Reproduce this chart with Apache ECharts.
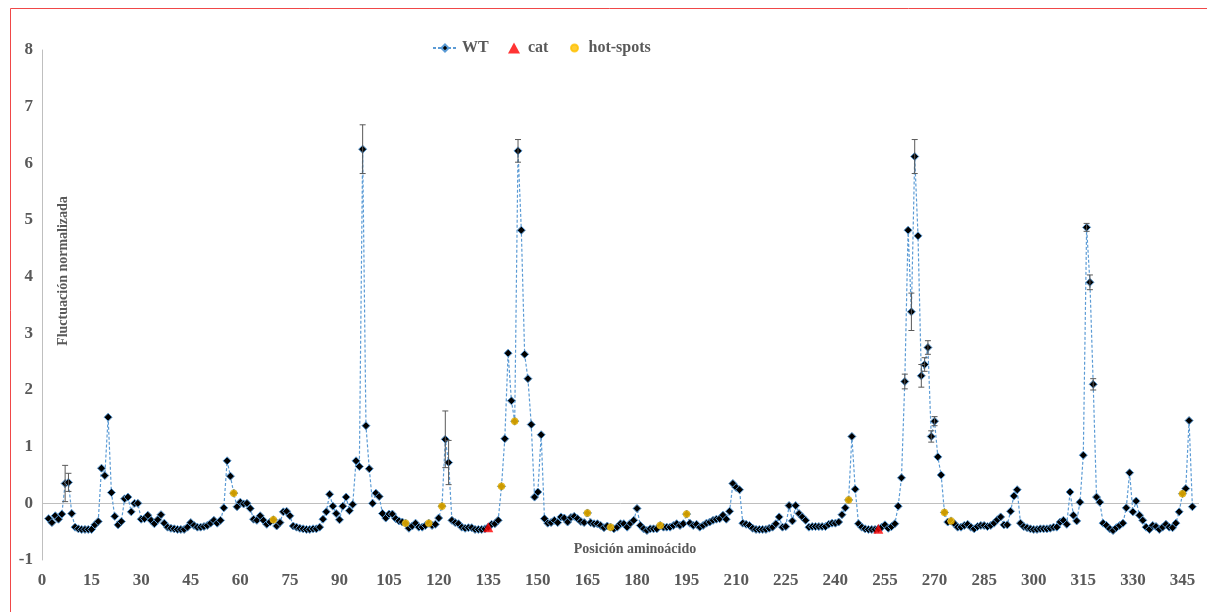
<!DOCTYPE html>
<html><head><meta charset="utf-8">
<script src="https://cdn.jsdelivr.net/npm/echarts@6/dist/echarts.min.js"></script>
<style>html,body{margin:0;padding:0;background:#fff}#c{width:1207px;height:612px}</style>
</head><body><div id="c"></div>
<script>
// Residue numbering starts at 2
const firstResidue = 2;
const xTicks = {min: 0, max: 350, interval: 15};
const yTicks = {min: -1, max: 8, interval: 1};
const wt = [
-0.27,-0.34,-0.22,-0.28,-0.19,0.35,0.37,-0.18,-0.42,-0.45,
-0.46,-0.46,-0.46,-0.46,-0.38,-0.32,0.62,0.49,1.52,0.19,
-0.23,-0.38,-0.32,0.08,0.11,-0.15,0.00,0.00,-0.28,-0.27,
-0.21,-0.30,-0.36,-0.29,-0.20,-0.35,-0.42,-0.44,-0.45,-0.46,
-0.46,-0.46,-0.42,-0.34,-0.39,-0.42,-0.42,-0.41,-0.39,-0.35,
-0.30,-0.35,-0.30,-0.08,0.75,0.48,0.18,-0.06,0.02,-0.01,
0.00,-0.09,-0.28,-0.30,-0.22,-0.30,-0.37,-0.33,-0.29,-0.40,
-0.34,-0.15,-0.14,-0.22,-0.40,-0.42,-0.44,-0.45,-0.46,-0.46,
-0.45,-0.45,-0.42,-0.28,-0.15,0.16,-0.05,-0.18,-0.29,-0.05,
0.11,-0.13,-0.02,0.75,0.65,6.25,1.37,0.61,0.00,0.18,
0.12,-0.18,-0.26,-0.19,-0.19,-0.27,-0.31,-0.33,-0.35,-0.44,
-0.40,-0.35,-0.42,-0.42,-0.39,-0.35,-0.39,-0.37,-0.26,-0.05,
1.13,0.72,-0.30,-0.34,-0.36,-0.42,-0.44,-0.43,-0.43,-0.46,
-0.46,-0.46,-0.45,-0.42,-0.37,-0.36,-0.30,0.30,1.14,2.65,
1.81,1.45,6.22,4.82,2.63,2.20,1.39,0.11,0.20,1.21,
-0.27,-0.35,-0.34,-0.30,-0.34,-0.24,-0.26,-0.33,-0.25,-0.23,
-0.27,-0.32,-0.34,-0.17,-0.34,-0.36,-0.36,-0.39,-0.43,-0.40,
-0.42,-0.45,-0.42,-0.36,-0.36,-0.42,-0.35,-0.30,-0.09,-0.39,
-0.45,-0.48,-0.45,-0.45,-0.45,-0.39,-0.42,-0.42,-0.42,-0.39,
-0.36,-0.39,-0.36,-0.19,-0.35,-0.39,-0.37,-0.42,-0.39,-0.35,
-0.33,-0.30,-0.28,-0.27,-0.21,-0.28,-0.14,0.35,0.28,0.24,
-0.35,-0.37,-0.39,-0.44,-0.46,-0.46,-0.46,-0.46,-0.44,-0.42,
-0.36,-0.24,-0.42,-0.41,-0.04,-0.31,-0.04,-0.18,-0.24,-0.30,
-0.42,-0.41,-0.41,-0.41,-0.41,-0.41,-0.37,-0.35,-0.35,-0.33,
-0.20,-0.08,0.06,1.18,0.25,-0.36,-0.42,-0.45,-0.46,-0.46,
-0.46,-0.45,-0.42,-0.38,-0.44,-0.41,-0.36,-0.05,0.45,2.15,
4.82,3.38,6.12,4.72,2.25,2.45,2.75,1.18,1.45,0.82,
0.50,-0.16,-0.33,-0.31,-0.36,-0.42,-0.42,-0.39,-0.37,-0.42,
-0.45,-0.41,-0.39,-0.39,-0.41,-0.39,-0.35,-0.29,-0.24,-0.38,
-0.38,-0.14,0.13,0.24,-0.35,-0.41,-0.43,-0.45,-0.46,-0.46,
-0.45,-0.45,-0.45,-0.44,-0.42,-0.42,-0.33,-0.30,-0.37,0.20,
-0.21,-0.31,0.02,0.85,4.87,3.90,2.10,0.11,0.02,-0.35,
-0.39,-0.45,-0.48,-0.43,-0.39,-0.35,-0.08,0.54,-0.15,0.04,
-0.21,-0.30,-0.42,-0.46,-0.39,-0.41,-0.46,-0.42,-0.37,-0.42,
-0.43,-0.35,-0.15,0.17,0.26,1.46,-0.06
];
const hotSpots = [58,70,110,117,121,139,143,165,172,187,195,244,273,275,345];
const catResidues = [135,253];
const errResidues = [7,8,97,122,123,144,261,263,264,266,267,268,269,270,316,317,318];
const errValues   = [0.32,0.16,0.43,0.5,0.39,0.2,0.13,0.33,0.3,0.2,0.12,0.12,0.1,0.08,0.07,0.13,0.1];

const valAt = r => wt[r - firstResidue];
const wtData = wt.map((v, i) => [firstResidue + i, v]);
const hotData = hotSpots.map(r => [r, valAt(r)]);
const catData = catResidues.map(r => [r, valAt(r)]);
const errData = errResidues.map((r, i) => [r, valAt(r) - errValues[i], valAt(r) + errValues[i]]);

const FONT = 'Liberation Serif';
const GREY = '#595959';
const legendText = {fontFamily: FONT, fontWeight: 'bold', fontSize: 16, color: GREY};
const chart = echarts.init(document.getElementById('c'), null, {renderer: 'canvas'});
chart.setOption({
  animation: false,
  backgroundColor: '#fff',
  grid: {left: 42, right: 8, top: 50, bottom: 52, containLabel: false},
  legend: [
    {top: 40, left: 432, padding: 0, itemWidth: 24, itemHeight: 9,
     textStyle: legendText, data: [{name: 'WT'}]},
    {top: 40, left: 508, padding: 0, itemWidth: 12, itemHeight: 11,
     textStyle: Object.assign({padding: [0, 0, 0, 3]}, legendText),
     data: [{name: 'cat', icon: 'triangle', itemStyle: {color: '#FF0000'}}]},
    {top: 40, left: 570, padding: 0, itemWidth: 18, itemHeight: 7,
     textStyle: legendText,
     data: [{name: 'hot-spots', icon: 'circle', itemStyle: {color: '#FFC000', borderColor: '#FFC000'}}]}
  ],
  xAxis: {
    type: 'value', min: xTicks.min, max: xTicks.max, interval: xTicks.interval,
    axisLine: {show: false}, axisTick: {show: false}, splitLine: {show: false},
    axisLabel: {showMaxLabel: false, margin: 12, fontFamily: FONT, fontWeight: 'bold', fontSize: 17, color: GREY}
  },
  yAxis: {
    type: 'value', min: yTicks.min, max: yTicks.max, interval: yTicks.interval,
    axisLine: {show: true, lineStyle: {color: '#BFBFBF', width: 1}},
    axisTick: {show: false}, splitLine: {show: false},
    axisLabel: {margin: 9, fontFamily: FONT, fontWeight: 'bold', fontSize: 17, color: GREY}
  },
  graphic: [
    {type: 'rect', silent: true, shape: {x: 10.5, y: 8.5, width: 1400, height: 800},
     style: {fill: 'none', stroke: '#F04848', lineWidth: 1}},
    {type: 'text', x: 63, y: 271, rotation: Math.PI / 2,
     style: {text: 'Fluctuación normalizada', fontFamily: FONT, fontWeight: 'bold', fontSize: 14, fill: GREY,
             align: 'center', verticalAlign: 'middle'}},
    {type: 'text', x: 635, y: 549,
     style: {text: 'Posición aminoácido', fontFamily: FONT, fontWeight: 'bold', fontSize: 14, fill: GREY,
             align: 'center', verticalAlign: 'middle'}}
  ],
  series: [
    {
      name: 'WT', type: 'line', data: wtData, z: 3,
      symbol: 'diamond', symbolSize: 8, showAllSymbol: true,
      lineStyle: {color: '#5B9BD5', width: 1.2, type: [3, 2]},
      itemStyle: {color: '#000', borderColor: '#5B9BD5', borderWidth: 1},
      markLine: {silent: true, symbol: 'none', label: {show: false},
        lineStyle: {color: '#BFBFBF', width: 1, type: 'solid'}, data: [{yAxis: 0}], z: 1}
    },
    {
      name: 'errors', type: 'custom', data: errData, z: 4,
      renderItem: (params, api) => {
        const x = api.value(0);
        const lo = api.coord([x, api.value(1)]);
        const hi = api.coord([x, api.value(2)]);
        const w = 3;
        const st = {stroke: '#595959', lineWidth: 1};
        return {type: 'group', children: [
          {type: 'line', shape: {x1: lo[0], y1: lo[1], x2: hi[0], y2: hi[1]}, style: st},
          {type: 'line', shape: {x1: lo[0]-w, y1: lo[1], x2: lo[0]+w, y2: lo[1]}, style: st},
          {type: 'line', shape: {x1: hi[0]-w, y1: hi[1], x2: hi[0]+w, y2: hi[1]}, style: st}
        ]};
      }
    },
    {
      name: 'cat', type: 'scatter', data: catData, z: 5,
      symbol: 'triangle', symbolSize: 10, itemStyle: {color: '#FF0000'}
    },
    {
      name: 'hot-spots', type: 'scatter', data: hotData, z: 5,
      symbol: 'circle', symbolSize: 7, itemStyle: {color: '#FFC000', borderColor: '#E0A800', borderWidth: 0.5}
    }
  ]
});
</script></body></html>
